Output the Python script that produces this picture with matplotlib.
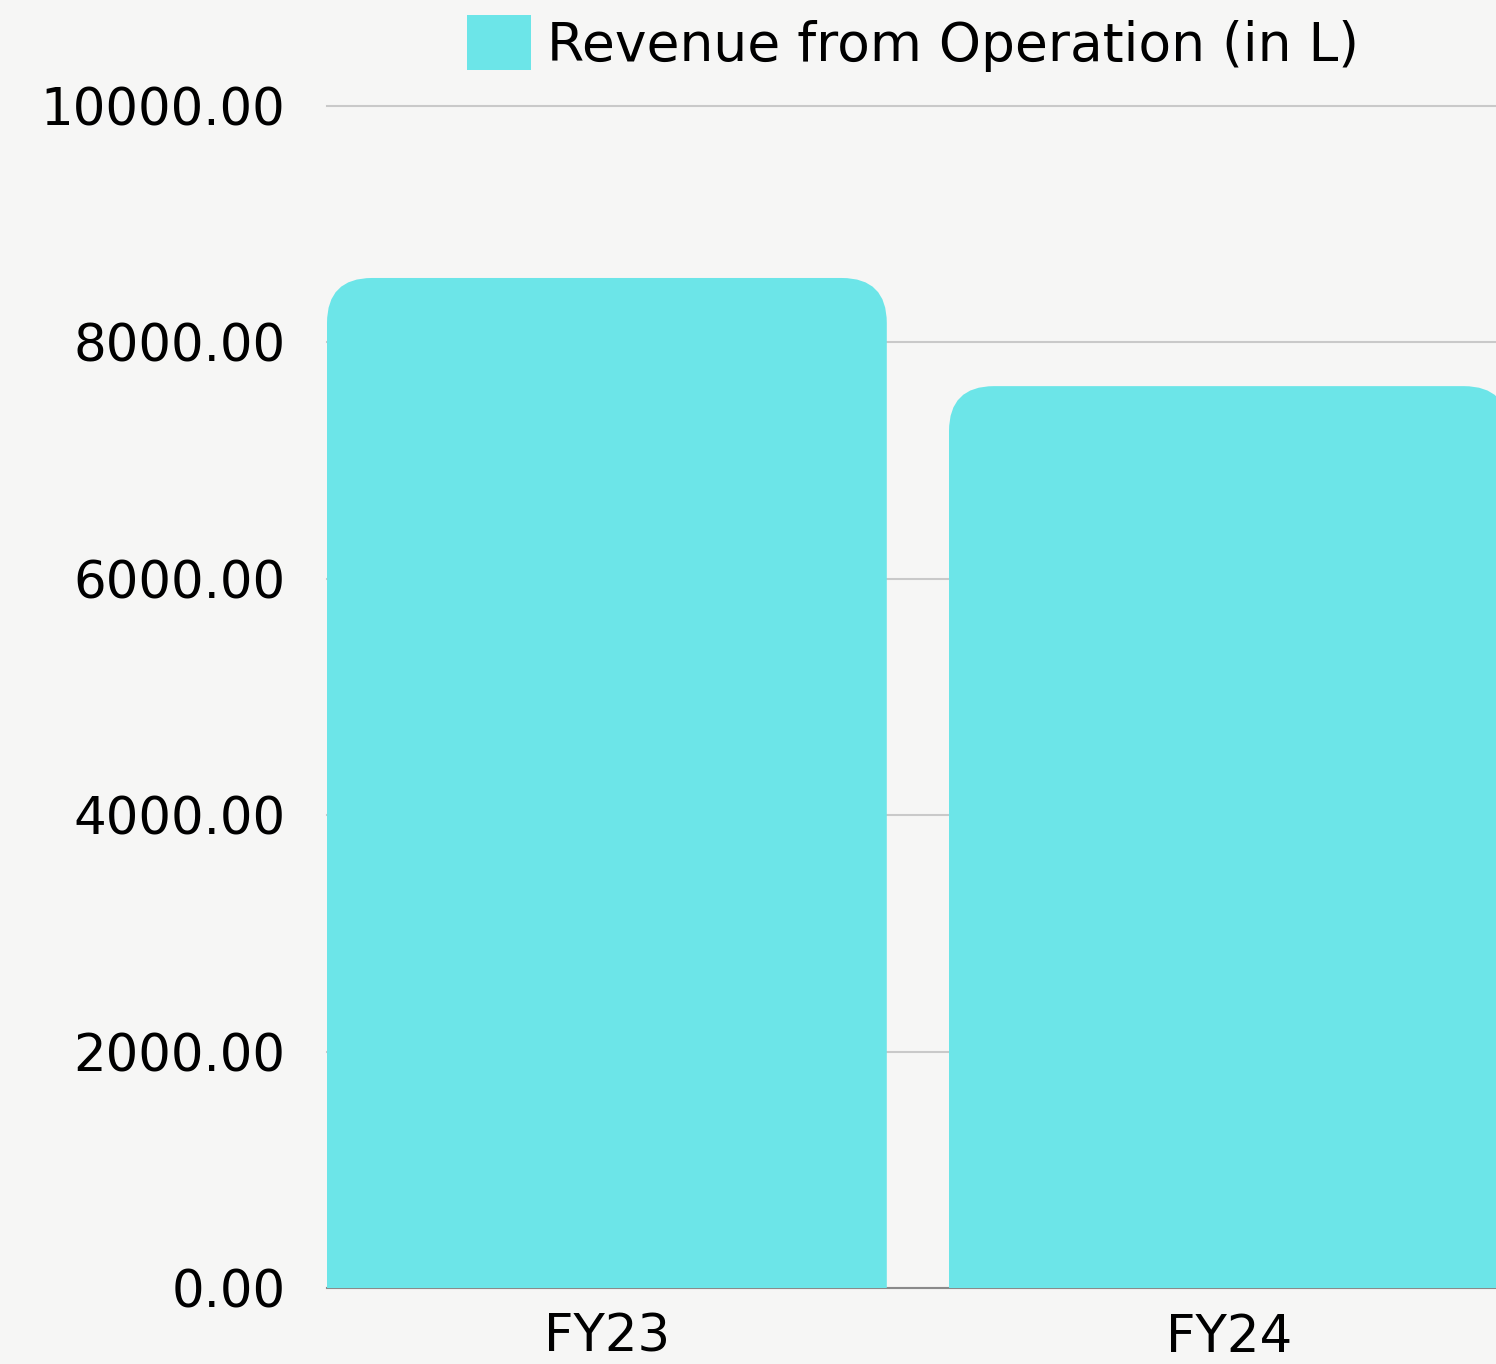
from matplotlib import pyplot as plt
from matplotlib.patches import FancyBboxPatch, Patch

categories = ['FY23', 'FY24']
revenue = [8545, 7630]
y_ticks = [0, 2000, 4000, 6000, 8000, 10000]
legend_label = 'Revenue from Operation (in L)'

BAR_COLOR = '#6ce5e8'
BG_COLOR = '#f6f6f5'
W, H, DPI = 1496, 1364, 100

fig = plt.figure(figsize=(W / DPI, H / DPI), dpi=DPI, facecolor=BG_COLOR)
ax = fig.add_axes([327 / W, 76 / H, 1 - 327 / W, 1182 / H])
ax.set_facecolor(BG_COLOR)

bar_width = 0.9
ax.set_xlim(-0.45, -0.45 + (W - 327) / 622)
ax.set_ylim(0, 10000)

# rounded top corners: radius ~45 px in both directions
px_x = 622 / 1.0
px_y = 1182 / 10000
rx = 45 / px_x
ry = 45 / px_y

bars = ax.bar(range(len(categories)), revenue, width=bar_width, color='none')
for rect in bars:
    x, w, h = rect.get_x(), rect.get_width(), rect.get_height()
    patch = FancyBboxPatch((x, -2 * ry), w, h + 2 * ry,
                           boxstyle=f'round,pad=0,rounding_size={rx}',
                           mutation_aspect=ry / rx,
                           facecolor=BAR_COLOR, edgecolor='none', zorder=3)
    ax.add_patch(patch)

ax.set_yticks(y_ticks)
ax.set_yticklabels([f'{v:.2f}' for v in y_ticks])
ax.set_xticks(range(len(categories)))
ax.set_xticklabels(categories)
ax.tick_params(axis='both', length=0, labelsize=37, colors='black')
ax.tick_params(axis='y', pad=30)
ax.tick_params(axis='x', pad=18)

ax.set_axisbelow(True)
ax.yaxis.grid(True, color='#c9c9c9', linewidth=1.5)
for gl in ax.get_ygridlines():
    gl.set_clip_on(False)
ax.xaxis.grid(False)

for side in ['top', 'right', 'left']:
    ax.spines[side].set_visible(False)
ax.spines['bottom'].set_color('#8a8a8a')
ax.spines['bottom'].set_linewidth(1.5)

handle = Patch(facecolor=BAR_COLOR, edgecolor='none')
fig.legend([handle], [legend_label], loc='upper center',
           bbox_to_anchor=(913 / W, 1 + 22 / H), frameon=False,
           fontsize=38.5, handlelength=1.2, handleheight=1.2,
           handletextpad=0.3, borderpad=0.2)

fig.savefig('out.png', dpi=DPI, facecolor=BG_COLOR)
